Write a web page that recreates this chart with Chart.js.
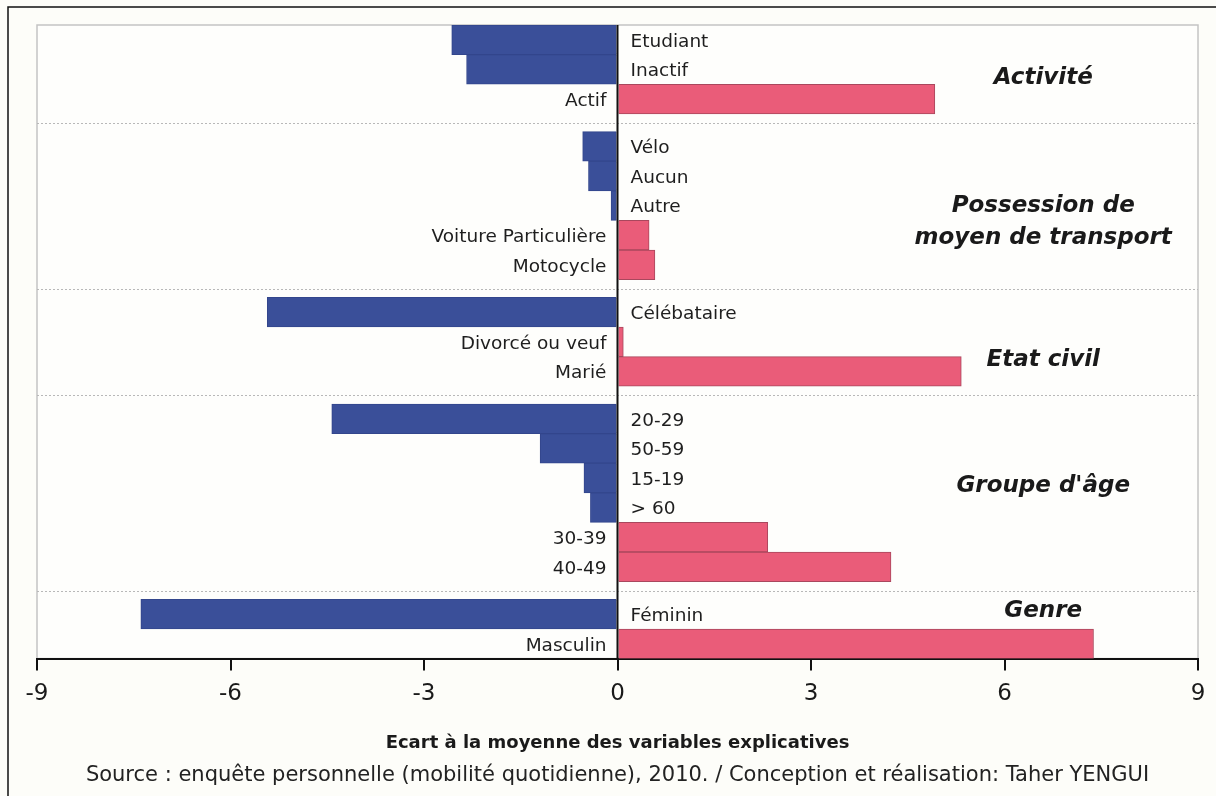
<!DOCTYPE html>
<html>
<head>
<meta charset="utf-8">
<script src="https://cdn.jsdelivr.net/npm/chart.js@4"></script>
<style>
  html, body { margin: 0; padding: 0; background: #fdfdf9; }
  #wrap { width: 1216px; height: 796px; }
</style>
</head>
<body>
<div id="wrap"><canvas id="c" width="1216" height="796"></canvas></div>
<script>
// ---- data ----
const categories = ['Etudiant', 'Inactif', 'Actif',
  'Vélo', 'Aucun', 'Autre', 'Voiture Particulière', 'Motocycle',
  'Célébataire', 'Divorcé ou veuf', 'Marié',
  '20-29', '50-59', '15-19', '> 60', '30-39', '40-49',
  'Féminin', 'Masculin'];
const values = [-2.57, -2.34, 4.92,
  -0.54, -0.45, -0.10, 0.49, 0.58,
  -5.43, 0.09, 5.33,
  -4.43, -1.20, -0.52, -0.42, 2.33, 4.24,
  -7.39, 7.38];
const groupSizes = [3, 5, 3, 6, 2];
const groupNames = [['Activité'], ['Possession de', 'moyen de transport'], ['Etat civil'], ["Groupe d'âge"], ['Genre']];
const xTicks = [-9, -6, -3, 0, 3, 6, 9];
const axisTitle = 'Ecart à la moyenne des variables explicatives';
const sourceText = 'Source : enquête personnelle (mobilité quotidienne), 2010. / Conception et réalisation: Taher YENGUI';

// ---- layout helpers (row index along category axis, with a gap between groups) ----
const GAP = 0.6;
const rowPos = [];
const groupOf = [];
{
  let k = 0;
  groupSizes.forEach((n, g) => {
    for (let i = 0; i < n; i++) { rowPos.push(k + g * GAP); groupOf.push(g); k++; }
  });
}
const groupStart = [], groupEnd = [];
groupSizes.forEach((n, g) => {
  const idx = groupOf.map((v, i) => v === g ? i : -1).filter(i => i >= 0);
  groupStart.push(rowPos[idx[0]]); groupEnd.push(rowPos[idx[idx.length - 1]]);
});
// vertical offset (in rows) of each group caption from the group's centre
const captionShift = [0.29, 0.54, 0.63, -0.22, -0.62];

const BLUE = '#3a4f99', PINK = '#ea5c79';
const FONT = '"DejaVu Sans", Verdana, sans-serif';

const bgPlugin = {
  id: 'bg',
  beforeDraw(chart) {
    const ctx = chart.ctx, a = chart.chartArea;
    ctx.save();
    ctx.fillStyle = '#fdfdf9';
    ctx.fillRect(0, 0, chart.width, chart.height);
    ctx.strokeStyle = '#111';
    ctx.lineWidth = 1.5;
    ctx.strokeRect(8, 7, 1216, 800);
    ctx.fillStyle = '#fefefc';
    ctx.fillRect(a.left, a.top, a.right - a.left, a.bottom - a.top);
    ctx.strokeStyle = '#c4c4c4';
    ctx.lineWidth = 1.5;
    ctx.strokeRect(a.left, a.top, a.right - a.left, a.bottom - a.top);
    // dotted separators between groups
    const ys = chart.scales.y;
    ctx.strokeStyle = '#b8b8b8';
    ctx.lineWidth = 1;
    ctx.setLineDash([2, 2]);
    for (let g = 0; g < groupSizes.length - 1; g++) {
      const yv = (groupEnd[g] + groupStart[g + 1]) / 2;
      const py = Math.round(ys.getPixelForValue(yv)) + 0.5;
      ctx.beginPath(); ctx.moveTo(a.left, py); ctx.lineTo(a.right, py); ctx.stroke();
    }
    ctx.restore();
  }
};

const labelPlugin = {
  id: 'labels',
  afterDatasetsDraw(chart) {
    const ctx = chart.ctx, a = chart.chartArea;
    const xs = chart.scales.x, ys = chart.scales.y;
    const x0 = xs.getPixelForValue(0);
    ctx.save();
    // zero line
    ctx.strokeStyle = '#111';
    ctx.lineWidth = 2;
    ctx.beginPath(); ctx.moveTo(x0, a.top); ctx.lineTo(x0, a.bottom); ctx.stroke();
    ctx.font = '18.5px ' + FONT;
    ctx.fillStyle = '#1e1e1e';
    ctx.textBaseline = 'middle';
    const meta = chart.getDatasetMeta(0);
    meta.data.forEach((bar, i) => {
      const v = values[i];
      const y = bar.y + 2;
      if (v < 0) { ctx.textAlign = 'left'; ctx.fillText(categories[i], x0 + 13, y); }
      else { ctx.textAlign = 'right'; ctx.fillText(categories[i], x0 - 11, y); }
    });
    // group captions
    ctx.font = 'italic bold 23px ' + FONT;
    ctx.fillStyle = '#1a1a1a';
    ctx.textAlign = 'center';
    const cx = xs.getPixelForValue(6.6);
    groupNames.forEach((lines, g) => {
      const mid = (groupStart[g] + groupEnd[g]) / 2 + captionShift[g];
      const py = ys.getPixelForValue(mid);
      const lh = 32;
      lines.forEach((t, j) => {
        ctx.fillText(t, cx, py + (j - (lines.length - 1) / 2) * lh);
      });
    });
    ctx.restore();
  }
};

new Chart(document.getElementById('c'), {
  type: 'bar',
  data: {
    datasets: [{
      data: values.map((v, i) => ({ x: v, y: rowPos[i] })),
      backgroundColor: values.map(v => v < 0 ? BLUE : PINK),
      borderColor: values.map(v => v < 0 ? '#33468c' : '#a9475d'),
      borderWidth: 1,
      categoryPercentage: 1,
      barPercentage: 1
    }]
  },
  options: {
    indexAxis: 'y',
    responsive: false,
    devicePixelRatio: 1,
    animation: false,
    layout: { padding: { left: 37, right: 18, top: 25, bottom: 0 } },
    plugins: {
      legend: { display: false },
      tooltip: { enabled: false },
      subtitle: {
        display: true,
        position: 'bottom',
        text: sourceText,
        color: '#222',
        font: { family: FONT, size: 21, weight: 'normal' },
        padding: { top: 0, bottom: 8 }
      }
    },
    scales: {
      y: {
        type: 'linear',
        reverse: true,
        offset: false,
        min: -0.5,
        max: rowPos[rowPos.length - 1] + 0.5,
        afterBuildTicks(scale) { scale.ticks = rowPos.map(v => ({ value: v })); },
        display: false
      },
      x: {
        type: 'linear',
        min: xTicks[0],
        max: xTicks[xTicks.length - 1],
        afterBuildTicks(scale) { scale.ticks = xTicks.map(v => ({ value: v })); },
        border: { display: true, color: '#111', width: 2 },
        grid: {
          display: true,
          drawOnChartArea: false,
          drawTicks: true,
          tickLength: 12,
          tickColor: '#111',
          lineWidth: 2
        },
        ticks: {
          color: '#1a1a1a',
          font: { family: FONT, size: 23 },
          padding: 10
        },
        title: {
          display: true,
          text: axisTitle,
          color: '#1a1a1a',
          font: { family: FONT, size: 18, weight: 'bold' },
          padding: { top: 14, bottom: 9 }
        }
      }
    }
  },
  plugins: [bgPlugin, labelPlugin]
});
</script>
</body>
</html>
